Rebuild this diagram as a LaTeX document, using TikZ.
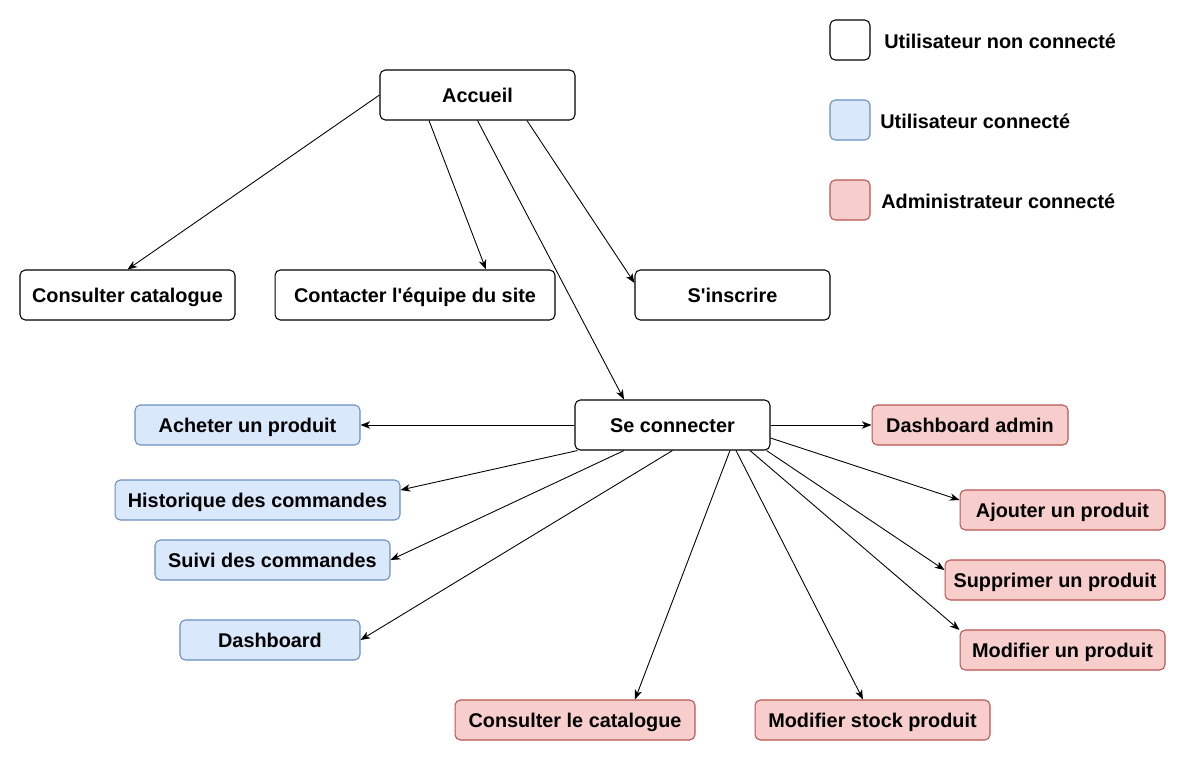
\documentclass[tikz,border=0pt]{standalone}
\usepackage{fontspec}
\setmainfont{Liberation Sans}
\usepackage{tikz}
\usetikzlibrary{arrows.meta}

\definecolor{bleufond}{HTML}{DAE8FC}
\definecolor{bleubord}{HTML}{6C8EBF}
\definecolor{rougefond}{HTML}{F8CECC}
\definecolor{rougebord}{HTML}{B85450}

\begin{document}
\begin{tikzpicture}[x=0.02cm, y=-0.02cm,
	page/.style={draw, line width=0.6pt, rounded corners=3pt, fill=white, inner sep=0pt, minimum height=1cm, text height=0.9em, text depth=0.08em, font=\fontsize{11.3}{13}\selectfont\bfseries},
	connecte/.style={page, draw=bleubord, fill=bleufond, minimum height=0.8cm},
	admin/.style={page, draw=rougebord, fill=rougefond, minimum height=0.8cm},
	legende/.style={font=\fontsize{11.3}{13}\selectfont\bfseries, anchor=west, inner sep=0pt},
	fleche/.style={-{Stealth[length=5.5pt, width=4.2pt, inset=1.6pt]}, line width=0.5pt}]
	\useasboundingbox (0,0) rectangle (1187,761);
	% legende
	\node[page, minimum width=0.8cm, minimum height=0.8cm] (lnon) at (850,40) {};
	\node[connecte, minimum width=0.8cm] (lcon) at (850,120) {};
	\node[admin, minimum width=0.8cm] (ladm) at (850,200) {};
	\node[legende] (tnon) at (884,41) {Utilisateur non connecté};
	\node[legende] (tcon) at (880,121) {Utilisateur connecté};
	\node[legende] (tadm) at (881,201) {Administrateur connecté};
	% pages publiques
	\node[page, minimum width=3.9cm] (acc) at (477.5,95) {Accueil};
	\node[page, minimum width=4.3cm] (cc) at (127.5,295) {Consulter catalogue};
	\node[page, minimum width=5.6cm] (ct) at (415,295) {Contacter l\textquotesingle équipe du site};
	\node[page, minimum width=3.9cm] (ins) at (732.5,295) {S\textquotesingle inscrire};
	\node[page, minimum width=3.9cm] (sc) at (672.5,425) {Se connecter};
	% utilisateur connecte
	\node[connecte, minimum width=4.5cm] (ach) at (247.5,425) {Acheter un produit};
	\node[connecte, minimum width=5.7cm] (hist) at (257.5,500) {Historique des commandes};
	\node[connecte, minimum width=4.7cm] (suivi) at (272.5,560) {Suivi des commandes};
	\node[connecte, minimum width=3.6cm] (dash) at (270,640) {Dashboard};
	% administrateur
	\node[admin, minimum width=3.92cm] (dadm) at (970,425) {Dashboard admin};
	\node[admin, minimum width=4.1cm] (ajout) at (1062.5,510) {Ajouter un produit};
	\node[admin, minimum width=4.4cm] (suppr) at (1055,580) {Supprimer un produit};
	\node[admin, minimum width=4.1cm] (modif) at (1062.5,650) {Modifier un produit};
	\node[admin, minimum width=4.8cm] (cat) at (575,720) {Consulter le catalogue};
	\node[admin, minimum width=4.7cm] (stock) at (872.5,720) {Modifier stock produit};
	% fleches depuis l'accueil
	\draw[fleche] (acc.west) to (cc.north);
	\draw[fleche] ([xshift=-0.97cm]acc.south) to ([xshift=1.42cm]ct.north);
	\draw[fleche] (acc.south) to ([xshift=-0.97cm]sc.north);
	\draw[fleche] ([xshift=0.99cm]acc.south) to ([yshift=0.24cm]ins.west);
	% fleches depuis se connecter
	\draw[fleche] (sc.west) to (ach.east);
	\draw[fleche] ([xshift=0.06cm]sc.south west) to ([yshift=0.2cm]hist.east);
	\draw[fleche] ([xshift=-0.97cm]sc.south) to (suivi.east);
	\draw[fleche] (sc.south) to (dash.east);
	\draw[fleche] (sc.east) to (dadm.west);
	\draw[fleche] ([yshift=-0.26cm]sc.east) to ([yshift=0.2cm]ajout.west);
	\draw[fleche] ([xshift=-0.08cm]sc.south east) to ([yshift=0.2cm]suppr.west);
	\draw[fleche] ([xshift=1.55cm]sc.south) to ([yshift=0.4cm]modif.west);
	\draw[fleche] ([xshift=1.15cm]sc.south) to ([xshift=1.2cm]cat.north);
	\draw[fleche] ([xshift=1.27cm]sc.south) to ([xshift=-0.19cm]stock.north);
\end{tikzpicture}
\end{document}
